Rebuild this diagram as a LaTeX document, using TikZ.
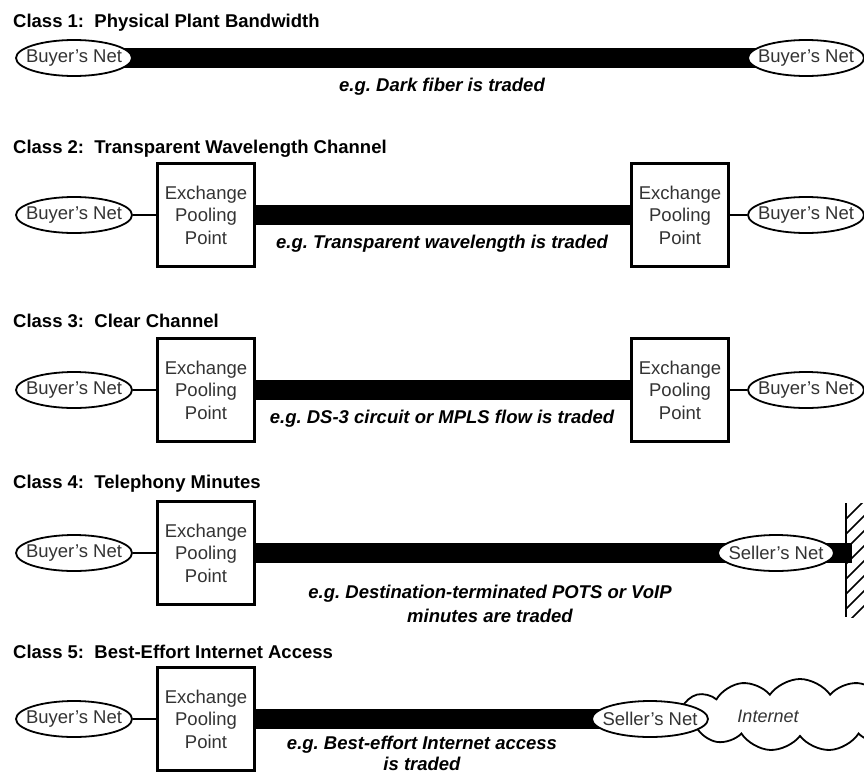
\documentclass[tikz,border=0pt]{standalone}
\usepackage{fontspec}
\setmainfont{Liberation Sans}
\usetikzlibrary{shapes.geometric,shapes.symbols,backgrounds}
\newcommand{\zw}[1]{\makebox[0pt]{#1}}
\frenchspacing
\begin{document}
\begin{tikzpicture}[x=1pt,y=-1pt,
  ttl/.style={anchor=base west, inner sep=0, font=\fontsize{18.5}{22}\selectfont\bfseries},
  lbl/.style={anchor=base, inner sep=0, align=center, font=\fontsize{18.5}{25}\selectfont\bfseries\itshape},
  lbltwo/.style={anchor=north, inner sep=0, align=center, font=\fontsize{18.5}{24}\selectfont\bfseries\itshape},
  net/.style={ellipse, draw, fill=white, line width=1.8, minimum width=116, minimum height=36, inner sep=0, text=black!80, font=\fontsize{18.5}{22}\selectfont},
  exch/.style={rectangle, draw, fill=white, line width=2.4, minimum width=97, minimum height=103, inner sep=0, align=center, text=black!80, font=\fontsize{18.5}{22.5}\selectfont},
  bar/.style={line width=20},
  link/.style={line width=2},
  hatch/.style={line width=1.6}]
\useasboundingbox (0,0) rectangle (864,777);
\begin{scope}[on background layer]
  \fill[white] (0,0) rectangle (864,777);
\end{scope}

% ---------- Class 1
\node[ttl] (t1) at (13,27) {Class 1:~~Physical Plant Bandwidth};
\node[net] (a1) at (74,58) {\zw{Buyer’s Net}};
\node[net] (b1) at (806,58) {\zw{Buyer’s Net}};
\node[lbl] (l1) at (442,91) {e.g. Dark fiber is traded};

% ---------- Class 2
\node[ttl] (t2) at (13,153) {Class 2:~~Transparent Wavelength Channel};
\node[net] (a2) at (74,215) {\zw{Buyer’s Net}};
\node[exch] (x2) at (206,215) {Exchange\\Pooling\\Point};
\node[exch] (y2) at (680,215) {Exchange\\Pooling\\Point};
\node[net] (b2) at (806,215) {\zw{Buyer’s Net}};
\node[lbl] (l2) at (442,248) {e.g. Transparent wavelength is traded};

% ---------- Class 3
\node[ttl] (t3) at (13,327) {Class 3:~~Clear Channel};
\node[net] (a3) at (74,390) {\zw{Buyer’s Net}};
\node[exch] (x3) at (206,390) {Exchange\\Pooling\\Point};
\node[exch] (y3) at (680,390) {Exchange\\Pooling\\Point};
\node[net] (b3) at (806,390) {\zw{Buyer’s Net}};
\node[lbl] (l3) at (442,423) {e.g. DS-3 circuit or MPLS flow is traded};

% ---------- Class 4
\node[ttl] (t4) at (13,488) {Class 4:~~Telephony Minutes};
\node[net] (a4) at (74,553) {\zw{Buyer’s Net}};
\node[exch] (x4) at (206,553) {Exchange\\Pooling\\Point};
\coordinate (w4) at (852,553);
\coordinate (wtop) at (846,503);
\coordinate (wbot) at (846,617);
\begin{scope}
  \clip (846,503) rectangle (870,617);
  \foreach \yy in {519,534,...,650} \draw[hatch] (846,\yy) -- ++(30,-30);
\end{scope}
\draw[line width=2] (wtop) -- (wbot);
\node[net] (s4) at (776,553) {\zw{Seller’s Net}};
\node[lbltwo] (l4) at (490,584.5) {e.g. Destination-terminated POTS or VoIP\\minutes are traded};

% ---------- Class 5
\node[ttl] (t5) at (13,658) {Class 5:~~Best-Effort Internet Access};
\node[net] (a5) at (74,719) {\zw{Buyer’s Net}};
\node[exch] (x5) at (206,719) {Exchange\\Pooling\\Point};
\node[cloud, draw, fill=white, line width=1.8, cloud puffs=13, cloud puff arc=110, aspect=3.5, minimum width=250, minimum height=72, inner sep=0] (cl) at (800,715) {};
\node[net] (s5) at (650,719) {\zw{Seller’s Net}};
\node[anchor=base, inner sep=0, text=black!80, font=\fontsize{18}{22}\selectfont\itshape] (inet) at (768,722) {Internet};
\node[anchor=north, inner sep=0, align=center, font=\fontsize{18.5}{21}\selectfont\bfseries\itshape] (l5) at (422,736) {e.g. Best-effort Internet access\\is traded};

% ---------- connectors
\draw[link] (a2) -- (x2);
\draw[link] (y2) -- (b2);
\draw[link] (a3) -- (x3);
\draw[link] (y3) -- (b3);
\draw[link] (a4) -- (x4);
\draw[link] (a5) -- (x5);

\begin{scope}[on background layer]
  \draw[bar] (a1.center) -- (b1.center);
  \draw[bar] (x2.east) -- (y2.west);
  \draw[bar] (x3.east) -- (y3.west);
  \draw[bar] (x4.east) -- (w4);
  \draw[bar] (x5.east) -- (s5.center);
\end{scope}
\end{tikzpicture}
\end{document}
